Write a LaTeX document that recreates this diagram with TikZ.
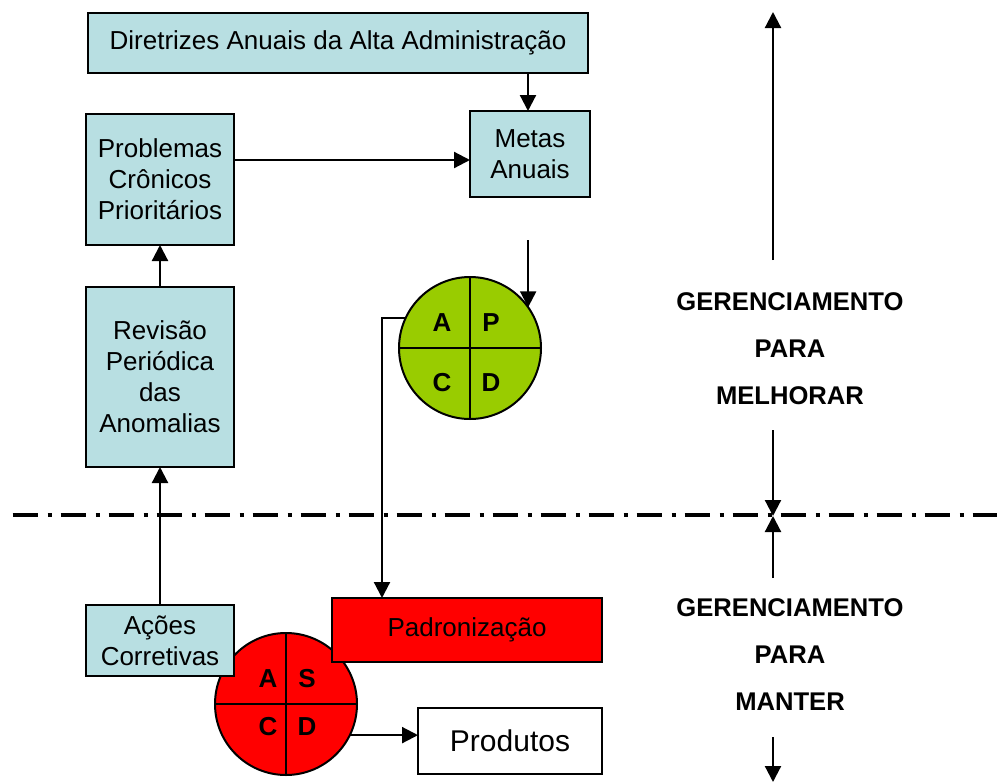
\documentclass[tikz,border=0pt]{standalone}
\usepackage{fontspec}
\setmainfont{Liberation Sans}
\usetikzlibrary{arrows.meta}
\definecolor{boxblue}{RGB}{184,223,226}
\definecolor{pdcagreen}{RGB}{153,204,0}
\definecolor{pdcared}{RGB}{255,0,0}
\tikzset{
  bluebox/.style={draw=black, line width=1.7pt, fill=boxblue, inner sep=0pt, outer sep=0pt,
    align=center, font=\fontsize{26}{31}\selectfont},
  redbox/.style={bluebox, fill=pdcared},
  whitebox/.style={bluebox, fill=white, font=\fontsize{30}{36}\selectfont},
  cycle/.style={circle, draw=black, line width=2pt, inner sep=0pt, outer sep=0pt, minimum size=142pt},
  letter/.style={inner sep=0pt, font=\fontsize{26}{30}\bfseries\selectfont},
  sidetext/.style={align=center, inner sep=0pt, font=\fontsize{25.6}{47}\bfseries\selectfont},
  arr/.style={line width=2.2pt, -{Triangle[length=16pt,width=16pt]}},
  quarter/.style={line width=2pt},
  axisline/.style={line width=3.2pt, dash pattern=on 25pt off 10pt on 4pt off 9pt}
}
\begin{document}
\begin{tikzpicture}[x=1pt,y=-1pt]
\useasboundingbox (0,0) rectangle (997,782);

% separation between the two management levels
\coordinate (axL) at (12.7,515);
\coordinate (axR) at (997,515);
\draw[axisline] (axL) -- (axR);

% improvement cycle (PDCA)
\node[cycle, fill=pdcagreen] (pdca) at (470,348) {};
\draw[quarter] (pdca.north) -- (pdca.south);
\draw[quarter] (pdca.west) -- (pdca.east);
\node[letter] (ga) at (442,323) {A};
\node[letter] (gp) at (491,323) {P};
\node[letter] (gc) at (442,383) {C};
\node[letter] (gd) at (491,383) {D};

% maintenance cycle (SDCA)
\node[cycle, fill=pdcared] (sdca) at (286,704) {};
\draw[quarter] (sdca.north) -- (sdca.south);
\draw[quarter] (sdca.west) -- (sdca.east);
\node[letter] (ra) at (268,679) {A};
\node[letter] (rs) at (307,679) {S};
\node[letter] (rc) at (268,727) {C};
\node[letter] (rd) at (307,727) {D};

% boxes
\node[bluebox, minimum width=500pt, minimum height=60pt] (dir) at (338,43)
  {Diretrizes Anuais da Alta Administração};
\node[bluebox, minimum width=120pt, minimum height=86pt] (metas) at (530,154)
  {Metas\\Anuais};
\node[bluebox, minimum width=148pt, minimum height=131pt] (prob) at (160,179.5)
  {Problemas\\Crônicos\\Prioritários};
\node[bluebox, minimum width=148pt, minimum height=180pt] (rev) at (160,377)
  {Revisão\\Periódica\\das\\Anomalias};
\node[bluebox, minimum width=148pt, minimum height=71pt] (acoes) at (160,640.5)
  {Ações\\Corretivas};
\node[redbox, minimum width=270pt, minimum height=64pt] (padr) at (467,630)
  {Padronização};
\node[whitebox, minimum width=184pt, minimum height=66pt] (prod) at (510,741)
  {Produtos};

% connectors
\coordinate (xa) at (528,0);
\coordinate (yp) at (0,160);
\coordinate (gy) at (0,240);
\coordinate (xl) at (382,0);
\draw[arr] (xa |- dir.south) -- (xa |- metas.north);
\draw[arr] (prob.east |- yp) -- (metas.west |- yp);
\draw[arr] (rev.north) -- (rev.north |- prob.south);
\draw[arr] (acoes.north) -- (acoes.north |- rev.south);
\draw[arr] (pdca.35.3 |- gy) -- (pdca.35.3);
\draw[arr] (pdca.155) -| (xl |- padr.north);
\draw[arr] (sdca.-26.8) -- (prod.west |- sdca.-26.8);

% management levels
\node[sidetext] (melhorar) at (790,349) {GERENCIAMENTO\\PARA\\MELHORAR};
\node[sidetext] (manter) at (790,655) {GERENCIAMENTO\\PARA\\MANTER};

\coordinate (u1) at (773,260);
\coordinate (u0) at (773,12);
\coordinate (m1) at (773,430);
\coordinate (m0) at (773,516);
\coordinate (k1) at (773,578);
\coordinate (k0) at (773,516);
\coordinate (b1) at (773,737);
\coordinate (b0) at (773,782);
\draw[arr] (u1) -- (u0);
\draw[arr] (m1) -- (m0);
\draw[arr] (k1) -- (k0);
\draw[arr] (b1) -- (b0);
\end{tikzpicture}
\end{document}
